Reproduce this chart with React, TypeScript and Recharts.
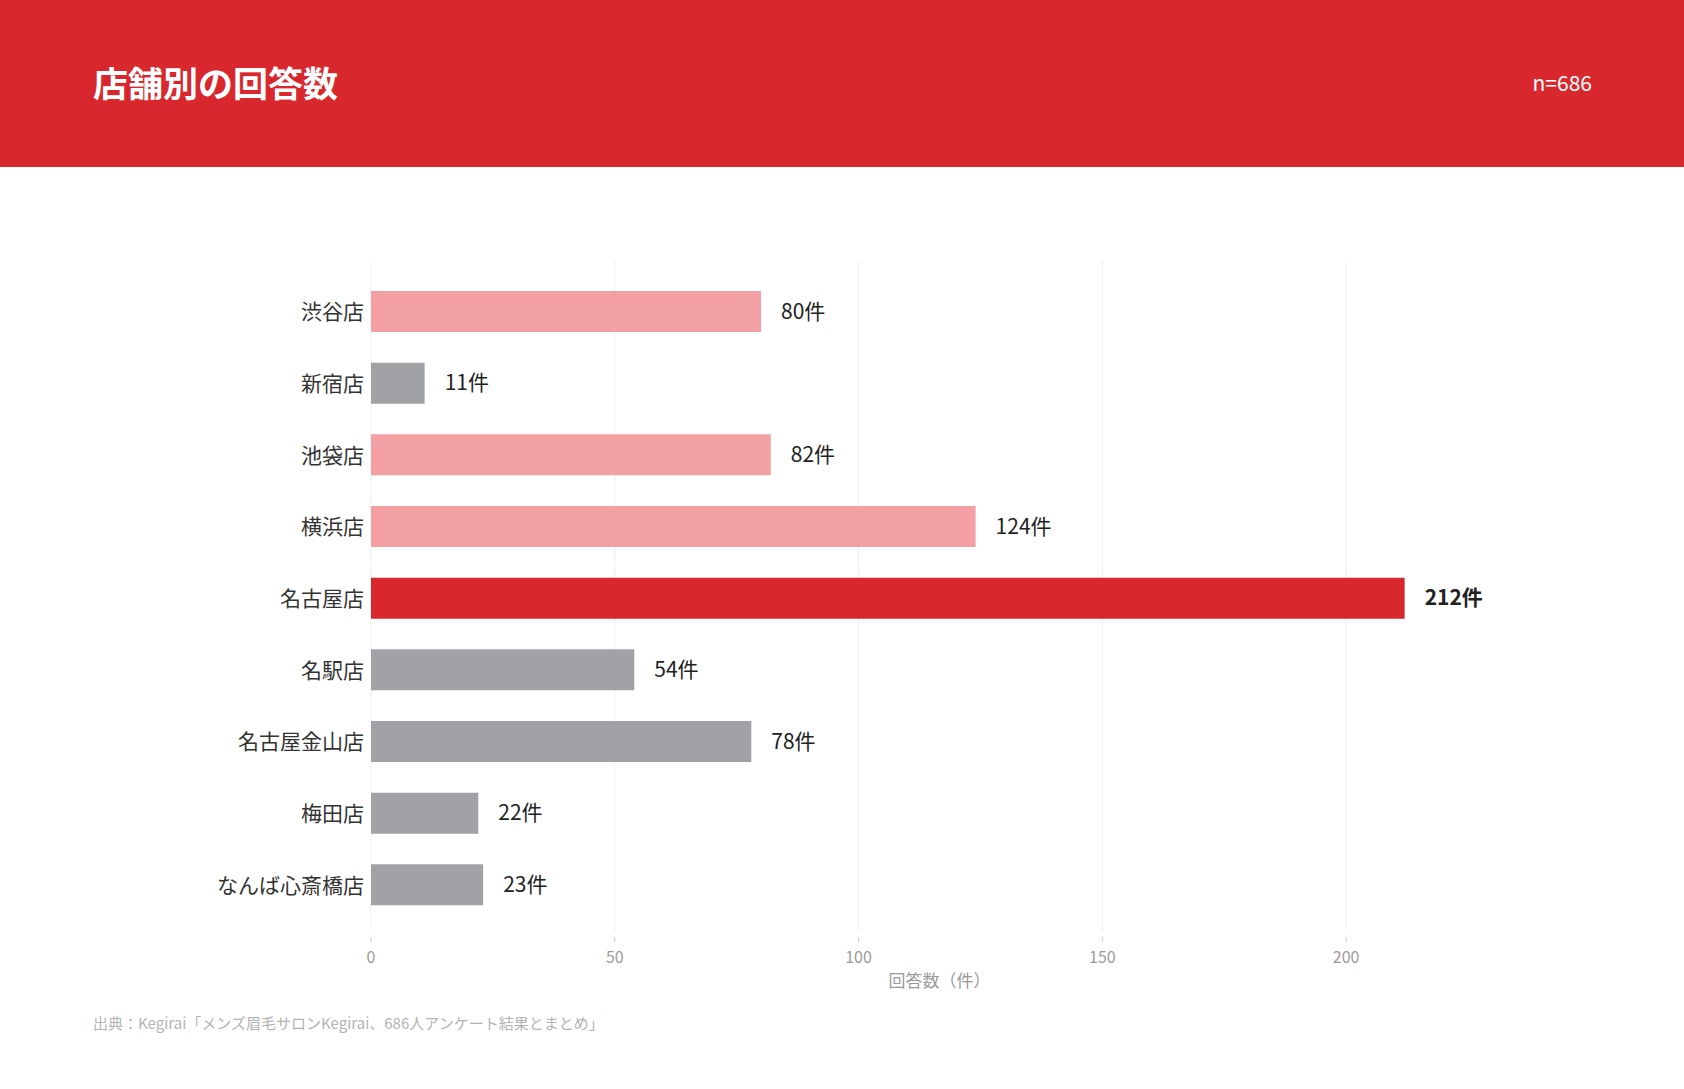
import React from 'react';
import { BarChart, Bar, Cell, XAxis, YAxis, CartesianGrid, LabelList, Label } from 'recharts';

const FONT = '"Noto Sans CJK JP", "Noto Sans", sans-serif';

const COLORS = {
  TOKYO: '#f2a0a4', // 関東の店舗
  OTHER: '#a1a2a6', // その他
  TOP: '#d9272e', // 最多
  HEADER: '#d9272e',
};

// 店舗名と回答数
const stores = ['渋谷店', '新宿店', '池袋店', '横浜店', '名古屋店', '名駅店', '名古屋金山店', '梅田店', 'なんば心斎橋店'];
const counts = [80, 11, 82, 124, 212, 54, 78, 22, 23];
const groups = ['TOKYO', 'OTHER', 'TOKYO', 'TOKYO', 'TOP', 'OTHER', 'OTHER', 'OTHER', 'OTHER'];
const xTicks = [0, 50, 100, 150, 200];

const title = '店舗別の回答数';
const sampleSize = 'n=686';
const xAxisTitle = '回答数（件）';
const source = '出典：Kegirai「メンズ眉毛サロンKegirai、686人アンケート結果とまとめ」';

const maxCount = Math.max(...counts);
const domainMax = maxCount * 1.1;

const data = stores.map((name, i) => ({
  name,
  value: counts[i],
  color: COLORS[groups[i] as keyof typeof COLORS],
}));

const XTick = (props: any) => {
  const { x, y, payload } = props;
  return (
    <g>
      <line x1={x} x2={x} y1={y + 6} y2={y + 11} stroke="#cccccc" />
      <text x={x} y={y + 25} textAnchor="middle" dominantBaseline="central" fontSize={16} fill="#9a9a9a" fontFamily={FONT}>
        {payload.value}
      </text>
    </g>
  );
};

const ValueLabel = (props: any) => {
  const { x, y, width, height, value } = props;
  const isMax = value === maxCount;
  return (
    <text
      x={x + width + 20}
      y={y + height / 2 - 2}
      dominantBaseline="central"
      fontSize={21}
      fontWeight={isMax ? 700 : 400}
      fill="#222222"
      fontFamily={FONT}
    >
      {value}件
    </text>
  );
};

export default function App() {
  return (
    <div style={{ position: 'absolute', left: 0, top: 0, width: 1684, height: 1089, background: '#ffffff', fontFamily: FONT }}>
      <div
        style={{
          position: 'absolute', left: 0, top: 0, width: 1684, height: 167,
          background: COLORS.HEADER, color: '#ffffff',
        }}
      >
        <div style={{ position: 'absolute', left: 93, top: -2, height: 167, lineHeight: '167px', fontSize: 35, fontWeight: 700 }}>
          {title}
        </div>
        <div style={{ position: 'absolute', right: 92, top: -1, height: 167, lineHeight: '167px', fontSize: 21 }}>
          {sampleSize}
        </div>
      </div>

      <div style={{ position: 'absolute', left: 0, top: 0 }}>
        <BarChart
          width={1684}
          height={1089}
          data={data}
          layout="vertical"
          margin={{ top: 261, right: 176, left: 0, bottom: 98 }}
        >
          <CartesianGrid
            horizontal={false}
            stroke="#eeeeee"
            verticalCoordinatesGenerator={({ offset }: any) =>
              xTicks.map(t => offset.left + (t / domainMax) * offset.width)
            }
          />
          <XAxis
            type="number"
            domain={[0, domainMax]}
            ticks={xTicks}
            axisLine={false}
            tickLine={false}
            tickSize={0}
            tickMargin={0}
            height={60}
            tick={<XTick />}
          >
            <Label
              content={({ viewBox }: any) => (
                <text
                  x={viewBox.x + viewBox.width / 2}
                  y={viewBox.y + 48}
                  textAnchor="middle"
                  dominantBaseline="central"
                  fontSize={17}
                  fill="#9a9a9a"
                  fontFamily={FONT}
                >
                  {xAxisTitle}
                </text>
              )}
            />
          </XAxis>
          <YAxis
            type="category"
            dataKey="name"
            width={371}
            axisLine={false}
            tickLine={false}
            tickSize={0}
            tickMargin={7}
            padding={{ top: 15, bottom: 10 }}
            tick={{ fontSize: 21, fill: '#333333', fontFamily: FONT }}
          />
          <Bar dataKey="value" barSize={41} isAnimationActive={false}>
            {data.map((entry, index) => (
              <Cell key={`cell-${index}`} fill={entry.color} />
            ))}
            <LabelList dataKey="value" content={<ValueLabel />} />
          </Bar>
        </BarChart>
      </div>

      <div style={{ position: 'absolute', left: 93, top: 1012, fontSize: 15, lineHeight: '22px', color: '#b3b3b3' }}>
        {source}
      </div>
    </div>
  );
}
